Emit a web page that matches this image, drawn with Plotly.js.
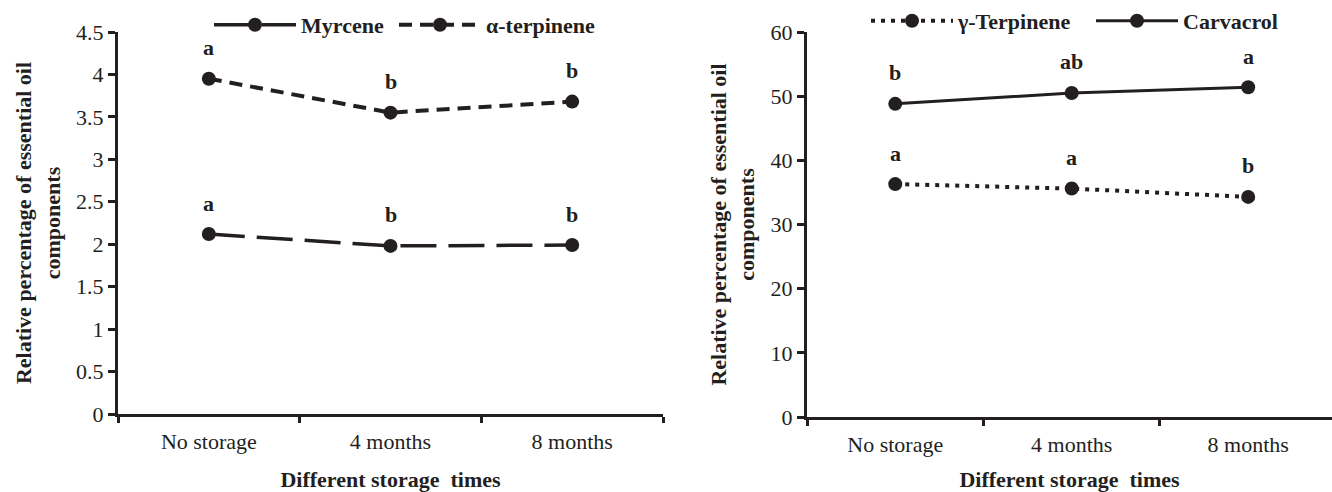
<!DOCTYPE html>
<html>
<head>
<meta charset="utf-8">
<script src="https://cdn.plot.ly/plotly-3.0.1.min.js"></script>
<style>html,body{margin:0;padding:0;background:#fff;}#chart{width:1332px;height:492px;}</style>
</head>
<body>
<div id="chart"></div>
<script>
// ---- data ----
const categories = ['No storage', '4 months', '8 months'];
const myrcene = [2.12, 1.98, 1.99];
const alphaTerpinene = [3.95, 3.55, 3.68];
const gammaTerpinene = [36.3, 35.6, 34.3];
const carvacrol = [48.8, 50.5, 51.4];
const myrceneLetters = ['a', 'b', 'b'];
const alphaLetters = ['a', 'b', 'b'];
const gammaLetters = ['a', 'a', 'b'];
const carvacrolLetters = ['b', 'ab', 'a'];
const leftTicks = [0, 0.5, 1, 1.5, 2, 2.5, 3, 3.5, 4, 4.5];
const rightTicks = [0, 10, 20, 30, 40, 50, 60];

const INK = '#231f20';
const FONT = "'Liberation Serif', 'Times New Roman', serif";

function series(name, y, xa, ya, dash, width, legend) {
  return {
    type: 'scatter', mode: 'lines+markers', name: name,
    x: categories, y: y, xaxis: xa, yaxis: ya, legend: legend,
    line: {color: INK, width: width, dash: dash},
    marker: {color: INK, size: 14, symbol: 'circle'},
    hoverinfo: 'skip'
  };
}

const traces = [
  series('Myrcene', myrcene, 'x', 'y', '36px,12px', 3.5, 'legend'),
  series('α-terpinene', alphaTerpinene, 'x', 'y', '13px,8px', 4, 'legend2'),
  series('γ-Terpinene', gammaTerpinene, 'x2', 'y2', '4px,6px', 4, 'legend3'),
  series('Carvacrol', carvacrol, 'x2', 'y2', 'solid', 3, 'legend4')
];

function letters(vals, labs, xr, yr) {
  return vals.map((v, i) => ({
    x: categories[i], y: v, xref: xr, yref: yr, text: labs[i],
    showarrow: false, yshift: 31,
    font: {family: FONT, size: 22, color: INK, weight: 'bold'}
  }));
}

const annotations = [].concat(
  letters(myrcene, myrceneLetters, 'x', 'y'),
  letters(alphaTerpinene, alphaLetters, 'x', 'y'),
  letters(gammaTerpinene, gammaLetters, 'x2', 'y2'),
  letters(carvacrol, carvacrolLetters, 'x2', 'y2')
);

const tickFont = {family: FONT, size: 22, color: INK};
const titleFont = {family: FONT, size: 22, color: INK, weight: 'bold'};

function xaxis(domain, range, anchor) {
  return {
    domain: domain, range: range, anchor: anchor, type: 'category',
    showline: true, linecolor: INK, linewidth: 3, mirror: false,
    showgrid: false, zeroline: false, tickson: 'boundaries',
    ticks: 'outside', ticklen: 6, tickwidth: 3, tickcolor: INK,
    tickfont: tickFont, automargin: false, ticklabelstandoff: 6,
    title: {text: 'Different storage  times', font: titleFont, standoff: 24}
  };
}
function yaxis(domain, range, tickv, anchor) {
  return {
    domain: domain, range: range, anchor: anchor,
    showline: true, linecolor: INK, linewidth: 3,
    showgrid: false, zeroline: false,
    tickmode: 'array', tickvals: tickv, ticktext: tickv.map(String),
    ticks: 'outside', ticklen: 7, tickwidth: 3, tickcolor: INK,
    tickfont: tickFont, automargin: false,
    title: {text: 'Relative percentage of essential oil<br>components', font: titleFont, standoff: 10}
  };
}

const legendFont = {family: FONT, size: 22, color: INK, weight: 'bold'};
function leg(xpx, ypx) {
  return {
    orientation: 'h', x: xpx / 1332, xanchor: 'left', y: 1 - ypx / 492, yanchor: 'top',
    font: legendFont, bgcolor: 'rgba(0,0,0,0)', itemwidth: 82
  };
}

const layout = {
  width: 1332, height: 492,
  margin: {l: 0, r: 0, t: 0, b: 0},
  paper_bgcolor: '#ffffff', plot_bgcolor: '#ffffff',
  showlegend: true,
  xaxis: xaxis([118 / 1332, 663 / 1332], [-0.5, 2.5], 'y'),
  yaxis: yaxis([78 / 492, 460 / 492], [0, 4.5], leftTicks, 'x'),
  xaxis2: xaxis([807 / 1332, 1], [-0.5, 2.475], 'y2'),
  yaxis2: yaxis([75 / 492, 460 / 492], [0, 60], rightTicks, 'x2'),
  legend: leg(209, 4),
  legend2: leg(394, 4),
  legend3: leg(866, 0),
  legend4: leg(1091, 0),
  annotations: annotations
};

Plotly.newPlot('chart', traces, layout, {displayModeBar: false, staticPlot: true});
</script>
</body>
</html>
